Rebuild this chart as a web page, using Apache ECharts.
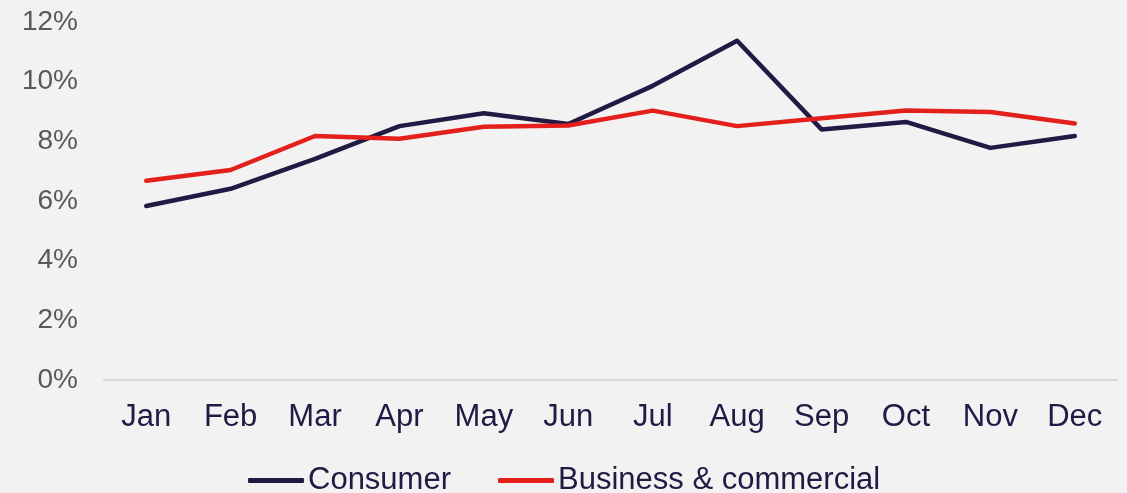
<!DOCTYPE html>
<html>
<head>
<meta charset="utf-8">
<script src="https://cdn.jsdelivr.net/npm/echarts@6/dist/echarts.min.js"></script>
<style>
  html, body { margin: 0; padding: 0; background: #f2f2f2; }
  #chart { width: 1127px; height: 493px; }
</style>
</head>
<body>
<div id="chart"></div>
<script>
var months = ['Jan', 'Feb', 'Mar', 'Apr', 'May', 'Jun', 'Jul', 'Aug', 'Sep', 'Oct', 'Nov', 'Dec'];
var consumer = [5.83, 6.41, 7.41, 8.51, 8.94, 8.58, 9.86, 11.37, 8.40, 8.65, 7.78, 8.18];
var business = [6.68, 7.04, 8.18, 8.09, 8.49, 8.53, 9.03, 8.51, 8.77, 9.03, 8.98, 8.60];

var FONT = '"Liberation Sans", Arial, sans-serif';
var NAVY = '#201a44';
var RED = '#e3201b';

var chart = echarts.init(document.getElementById('chart'));

chart.setOption({
    backgroundColor: '#f2f2f2',
    animation: false,
    grid: { left: 104, right: 10, top: 22, bottom: 113, containLabel: false },
    legend: {
        left: 248,
        top: 465,
        padding: 0,
        icon: 'roundRect',
        itemWidth: 56,
        itemHeight: 5,
        itemGap: 47,
        textStyle: { fontFamily: FONT, fontSize: 31, color: NAVY, padding: [0, 0, 0, -1] },
        data: ['Consumer', 'Business & commercial']
    },
    xAxis: {
        type: 'category',
        data: months,
        boundaryGap: true,
        axisLine: { lineStyle: { color: '#d9d9d9', width: 2 } },
        axisTick: { show: false },
        axisLabel: { fontFamily: FONT, fontSize: 31, color: NAVY, margin: 22 }
    },
    yAxis: {
        type: 'value',
        min: 0,
        max: 12,
        interval: 2,
        axisLine: { show: false },
        axisTick: { show: false },
        splitLine: { show: false },
        axisLabel: { fontFamily: FONT, fontSize: 28, color: '#595959', margin: 26, padding: [3, 0, 0, 0], formatter: '{value}%' }
    },
    series: [
        {
            name: 'Consumer',
            type: 'line',
            data: consumer,
            showSymbol: false,
            symbol: 'none',
            lineStyle: { color: NAVY, width: 4.5, cap: 'round', join: 'round' },
            itemStyle: { color: NAVY }
        },
        {
            name: 'Business & commercial',
            type: 'line',
            data: business,
            showSymbol: false,
            symbol: 'none',
            lineStyle: { color: RED, width: 4.5, cap: 'round', join: 'round' },
            itemStyle: { color: RED }
        }
    ]
});
</script>
</body>
</html>
